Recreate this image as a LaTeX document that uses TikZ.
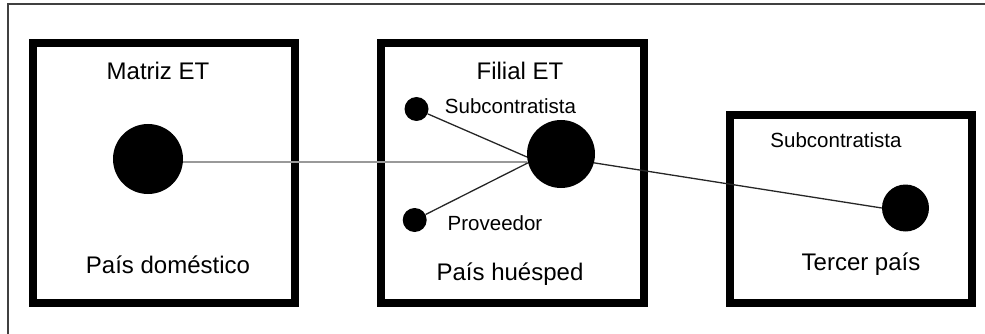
\documentclass[tikz,border=0pt]{standalone}
\usepackage{fontspec}
\setmainfont{Liberation Sans}
\begin{document}
\begin{tikzpicture}[x=1pt,y=-1pt,
  country/.style={draw=black,line width=8pt},
  dot/.style={circle,fill=black,inner sep=0pt,minimum size=#1},
  big/.style={font=\fontsize{24}{28}\selectfont,anchor=base,inner sep=0pt},
  small/.style={font=\fontsize{20.5}{24}\selectfont,anchor=base,inner sep=0pt},
  link/.style={draw=black!85,line width=1.3pt},
  glink/.style={draw=black!40,line width=2pt}]
\useasboundingbox (0,0) rectangle (985,334);
\draw[black!75,line width=2pt] (8,334) -- (8,4.5) -- (985,4.5);
% boxes
\draw[country] (33,43) rectangle (295,303);
\draw[country] (381,43) rectangle (644,303);
\draw[country] (730,115) rectangle (972,303);
% dots
\node[dot=70pt] (c1) at (148,159) {};
\node[dot=68pt] (cb) at (561,154) {};
\node[dot=24pt] (s1) at (416.5,109) {};
\node[dot=24pt] (s2) at (414.7,220) {};
\node[dot=47pt] (c3) at (905.5,208) {};
% labels
\node[big] (t1) at (158,80) {Matriz ET};
\node[big] (t2) at (168,273) {País doméstico};
\node[big] (t3) at (520,80) {Filial ET};
\node[big] (t4) at (510,280) {País huésped};
\node[big] (t5) at (861,270.7) {Tercer país};
\node[small] (l1) at (510.5,113.5) {Subcontratista};
\node[small] (l2) at (495,230) {Proveedor};
\node[small] (l3) at (836,147) {Subcontratista};
% connectors
\draw[glink] (c1.-5) -- (c1.-5 -| cb.west);
\draw[link] (s1) -- (cb.185);
\draw[link] (s2) -- (cb.195);
\draw[link] (cb.-15) -- (c3.west);
\end{tikzpicture}
\end{document}
